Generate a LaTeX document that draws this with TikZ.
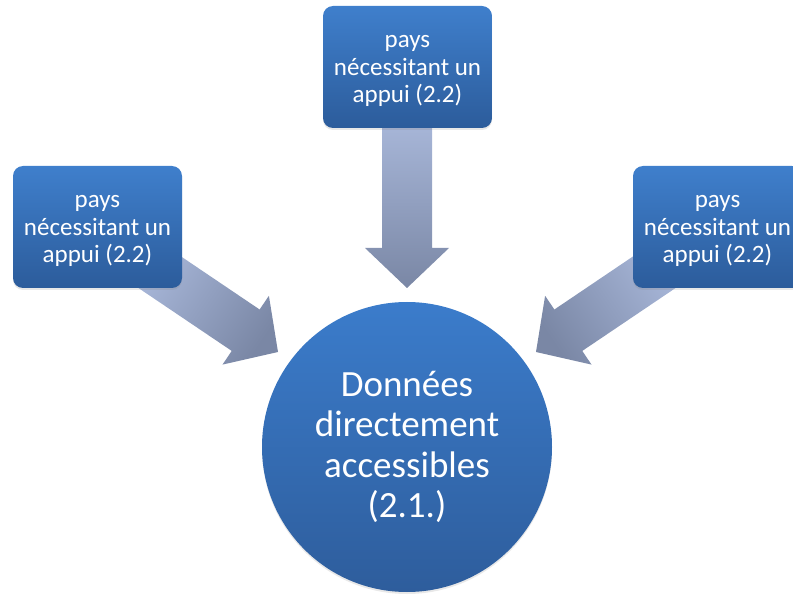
\documentclass[tikz,border=0pt]{standalone}
\usepackage{fontspec}
\setmainfont{Carlito}
\usetikzlibrary{shadows,backgrounds}
\definecolor{boxtop}{HTML}{3F7FCC}
\definecolor{boxbot}{HTML}{2C5C9B}
\definecolor{ciritop}{HTML}{3B7CCB}
\definecolor{ciribot}{HTML}{2E5D9C}
\definecolor{arlight}{HTML}{A8B7D9}
\definecolor{ardark}{HTML}{7A87A5}
\begin{document}
\begin{tikzpicture}[x=1pt,y=-1pt,
  srcbox/.style={rounded corners=10pt, top color=boxtop, bottom color=boxbot,
    minimum width=169pt, minimum height=122pt, inner sep=0pt,
    drop shadow={opacity=0.18, shadow xshift=0pt, shadow yshift=-2pt}},
  srctext/.style={align=center, text=white, inner sep=0pt,
    font=\fontsize{25}{27.5}\selectfont},
  hub/.style={circle, top color=ciritop, bottom color=ciribot,
    minimum size=290pt, inner sep=0pt, align=center, text=white,
    font=\fontsize{37}{40.5}\selectfont,
    drop shadow={opacity=0.18, shadow xshift=0pt, shadow yshift=-2pt}},
  blockarrow/.style={draw=none}]
\useasboundingbox (0,0) rectangle (793,596);
\node[srcbox] (top) at (407.5,67) {};
\node[srcbox] (left) at (97.5,227) {};
\node[srcbox] (right) at (717.5,227) {};
\node[srctext] (toptext) at ([yshift=-4pt]top.center) {pays\\nécessitant un\\appui (2.2)};
\node[srctext] (lefttext) at ([yshift=-4pt]left.center) {pays\\nécessitant un\\appui (2.2)};
\node[srctext] (righttext) at ([yshift=-4pt]right.center) {pays\\nécessitant un\\appui (2.2)};
\node[hub] (hub) at (407,447) {Données\\directement\\accessibles\\(2.1.)};
\begin{scope}[on background layer]
  % top arrow
  \shade[blockarrow, top color=arlight, bottom color=ardark]
    (382,120) -- (432,120) -- (432,248) -- (449,248) -- (407,288)
    -- (365,248) -- (382,248) -- cycle;
  % left arrow
  \shade[blockarrow, top color=arlight, bottom color=ardark, shading angle=56]
    (160.2,242.4) -- (259.6,309.5) -- (268.9,295.8) -- (278,352)
    -- (222.5,364.6) -- (231.7,350.9) -- (132.2,283.8) -- cycle;
  % right arrow
  \shade[blockarrow, top color=arlight, bottom color=ardark, shading angle=-56]
    (653.8,242.4) -- (554.4,309.5) -- (545.1,295.8) -- (536,352)
    -- (591.5,364.6) -- (582.3,350.9) -- (681.8,283.8) -- cycle;
\end{scope}
\end{tikzpicture}
\end{document}
